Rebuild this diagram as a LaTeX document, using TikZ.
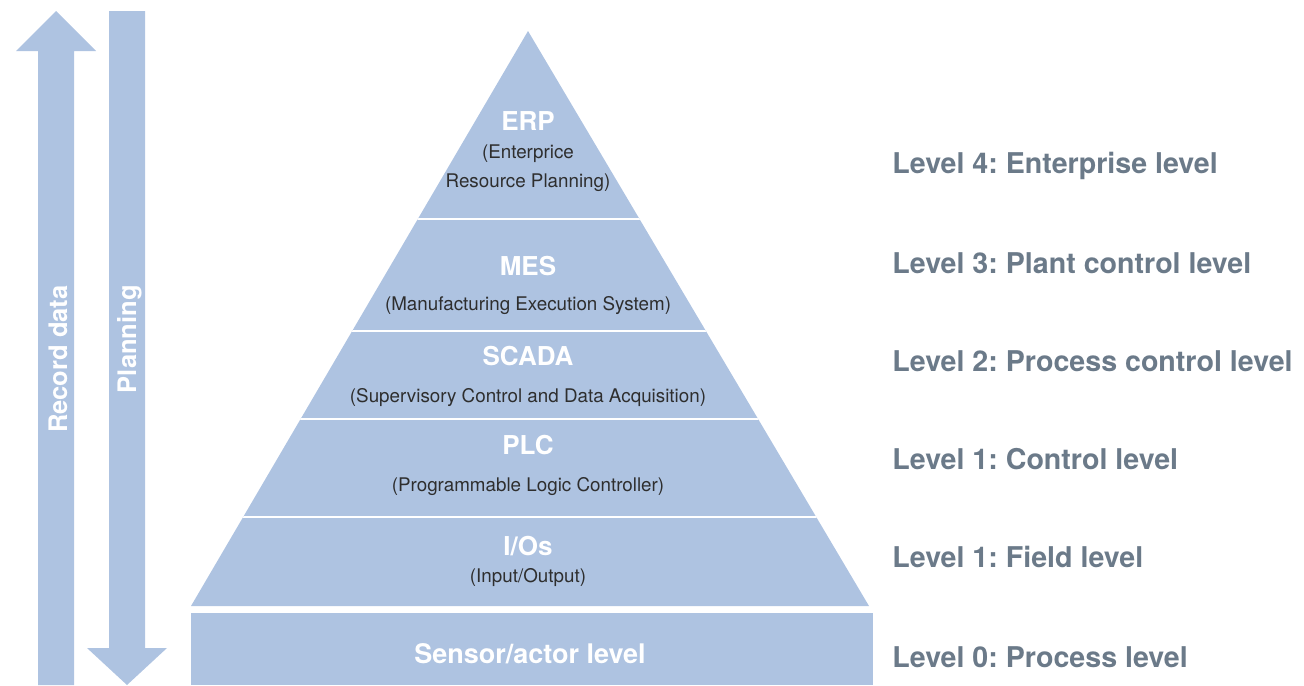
\documentclass[tikz,border=0pt]{standalone}
\usepackage{fontspec}
\setmainfont{TeX Gyre Heros}
\definecolor{pyrblue}{HTML}{AEC3E1}
\definecolor{lvlgray}{HTML}{6B7A89}
\definecolor{subgray}{HTML}{2E2E2E}
\def\uparrow{-- (38,51) -- (16,51) -- (56,11) -- (96,51) -- (74,51) -- (74,685) -- cycle}
\def\downarrow{-- (109,648) -- (87,648) -- (127,685) -- (167,648) -- (145,648) -- (145,11) -- cycle}
\def\pyramid{(528,31) -- (191,606) -- (869,606) -- cycle}
\frenchspacing

\begin{document}
\begin{tikzpicture}[x=0.5pt,y=-0.5pt,inner sep=0pt,
        title/.style={text=white,font=\bfseries\fontsize{13}{15}\selectfont,anchor=base},
        sub/.style={text=subgray,font=\fontsize{9.4}{14.5}\selectfont,anchor=base,align=center},
        lvl/.style={text=lvlgray,font=\bfseries\fontsize{14.3}{16}\selectfont,anchor=base west},
        vert/.style={text=white,font=\bfseries\fontsize{12.75}{15}\selectfont,rotate=90,anchor=base east}]
                \useasboundingbox (0,0) rectangle (1304,685);
                % arrows on the left
                \fill[pyrblue] (38,685) \uparrow;
                \fill[pyrblue] (109,11) \downarrow;
                \node[vert] (rec) at (67,285) {Record data};
                \node[vert] (plan) at (136,285) {Planning};
                % pyramid and its bands
                \fill[pyrblue] \pyramid;
                \begin{scope}
                    \clip \pyramid;
                    \foreach \y in {219,331,419,517}
                        \draw[white,line width=1pt] (150,\y) -- (910,\y);
                \end{scope}
                \fill[pyrblue] (191,613) rectangle (873,685);
                % band texts
                \node[title] (erp) at (528,130) {ERP};
                \node[sub,anchor=center] (erpsub) at (528,168) {(Enterprice\\Resource Planning)};
                \node[title] (mes) at (528,275) {MES};
                \node[sub] (messub) at (528,310) {(Manufacturing Execution System)};
                \node[title] (scada) at (528,365) {SCADA};
                \node[sub] (scadasub) at (528,402) {(Supervisory Control and Data Acquisition)};
                \node[title] (plc) at (528,454) {PLC};
                \node[sub] (plcsub) at (528,491) {(Programmable Logic Controller)};
                \node[title] (io) at (528,555) {I/Os};
                \node[sub] (iosub) at (528,582) {(Input/Output)};
                \node[title,font=\bfseries\fontsize{13.5}{15}\selectfont] (sens) at (530,663) {Sensor/actor level};
                % level names
                \node[lvl] (l4) at (892,173) {Level 4: Enterprise level};
                \node[lvl] (l3) at (892,273) {Level 3: Plant control level};
                \node[lvl] (l2) at (892,371) {Level 2: Process control level};
                \node[lvl] (l1c) at (892,469) {Level 1: Control level};
                \node[lvl] (l1f) at (892,567) {Level 1: Field level};
                \node[lvl] (l0) at (892,667) {Level 0: Process level};
            \end{tikzpicture}
\end{document}
